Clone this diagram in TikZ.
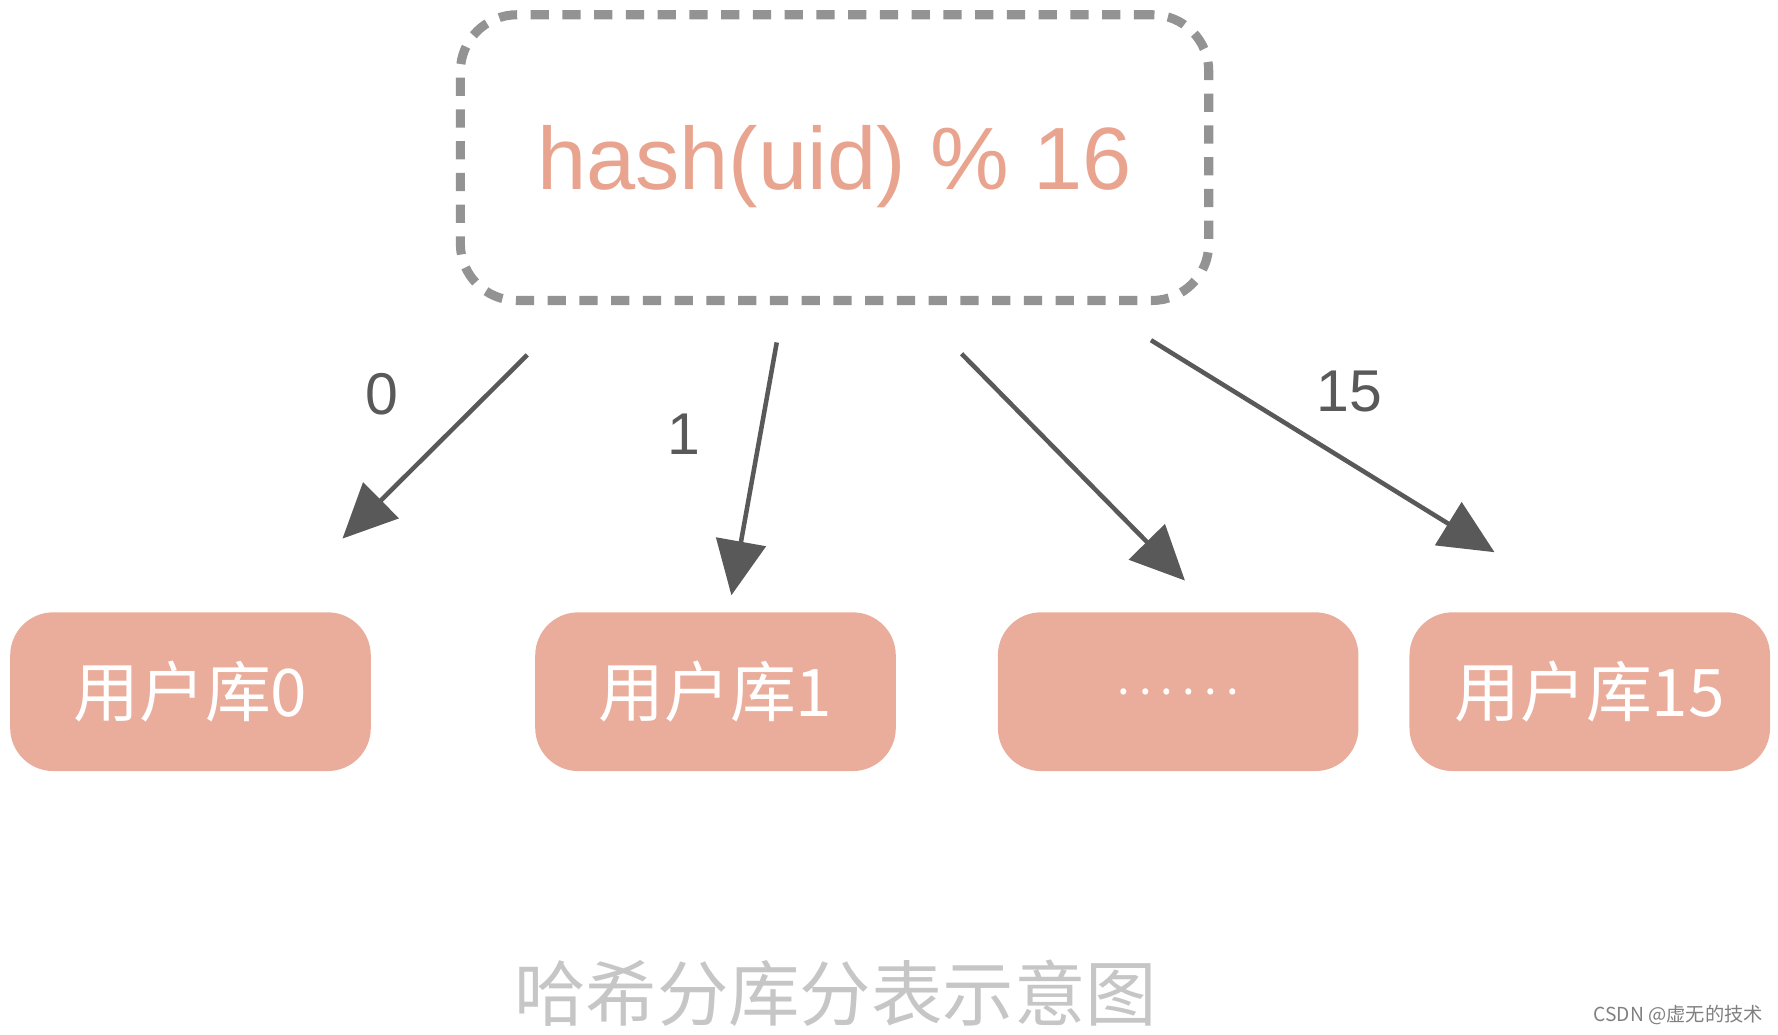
\documentclass[tikz,border=0pt]{standalone}
\usepackage{fontspec}
\setmainfont{Liberation Sans}
\newfontfamily\cjk{Noto Sans CJK SC}
\usetikzlibrary{arrows.meta}
\definecolor{salmon}{HTML}{E9A48F}
\definecolor{boxfill}{HTML}{EAAD9B}
\definecolor{dgray}{HTML}{595959}
\begin{document}
\begin{tikzpicture}[x=1pt,y=-1pt,
  dbox/.style={fill=boxfill,rounded corners=38pt,minimum width=318pt,text width=300pt,align=center,minimum height=140pt,text=white,font=\cjk\fontsize{58}{60}\selectfont},
  arr/.style={draw=dgray,line width=4pt,-{Triangle[length=48pt,width=44pt]}},
  lab/.style={text=dgray,font=\fontsize{52}{54}\selectfont}]
\useasboundingbox (0,0) rectangle (1568,912);
\node[draw=gray!85,dashed,dash pattern=on 16pt off 12pt,line width=8pt,rounded corners=50pt,minimum width=660pt,minimum height=252pt] (h) at (736,139) {};
\node[text=salmon,font=\fontsize{78}{80}\selectfont] (ht) at (736,147) {hash(uid) \% 16};
\node[dbox] (b0) at (168,610) {用户库0};
\node[dbox] (b1) at (631,610) {用户库1};
\node[dbox] (b2) at (1039,610) {\fontsize{40}{40}\selectfont .\hspace{8pt}.\hspace{8pt}.\hspace{8pt}.\hspace{8pt}.\hspace{8pt}.};
\node[dbox] (b3) at (1402,610) {用户库15};
\coordinate (s0) at (465,313); \coordinate (e0) at (302,475);
\coordinate (s1) at (685,302); \coordinate (e1) at (645,525);
\coordinate (s2) at (848,312); \coordinate (e2) at (1045,512);
\coordinate (s3) at (1015,300); \coordinate (e3) at (1318,487);
\draw[arr] (s0) -- (e0);
\draw[arr] (s1) -- (e1);
\draw[arr] (s2) -- (e2);
\draw[arr] (s3) -- (e3);
\node[lab] (l0) at (337,348) {0};
\node[lab] (l1) at (603,383) {1};
\node[lab] (l3) at (1190,345) {15};
\node[text=gray!45,font=\cjk\fontsize{63}{65}\selectfont] (cap) at (737,876) {哈希分库分表示意图};
\node[text=gray,font=\cjk\fontsize{17}{18}\selectfont] (wm) at (1480,895) {CSDN @虚无的技术};
\end{tikzpicture}
\end{document}
